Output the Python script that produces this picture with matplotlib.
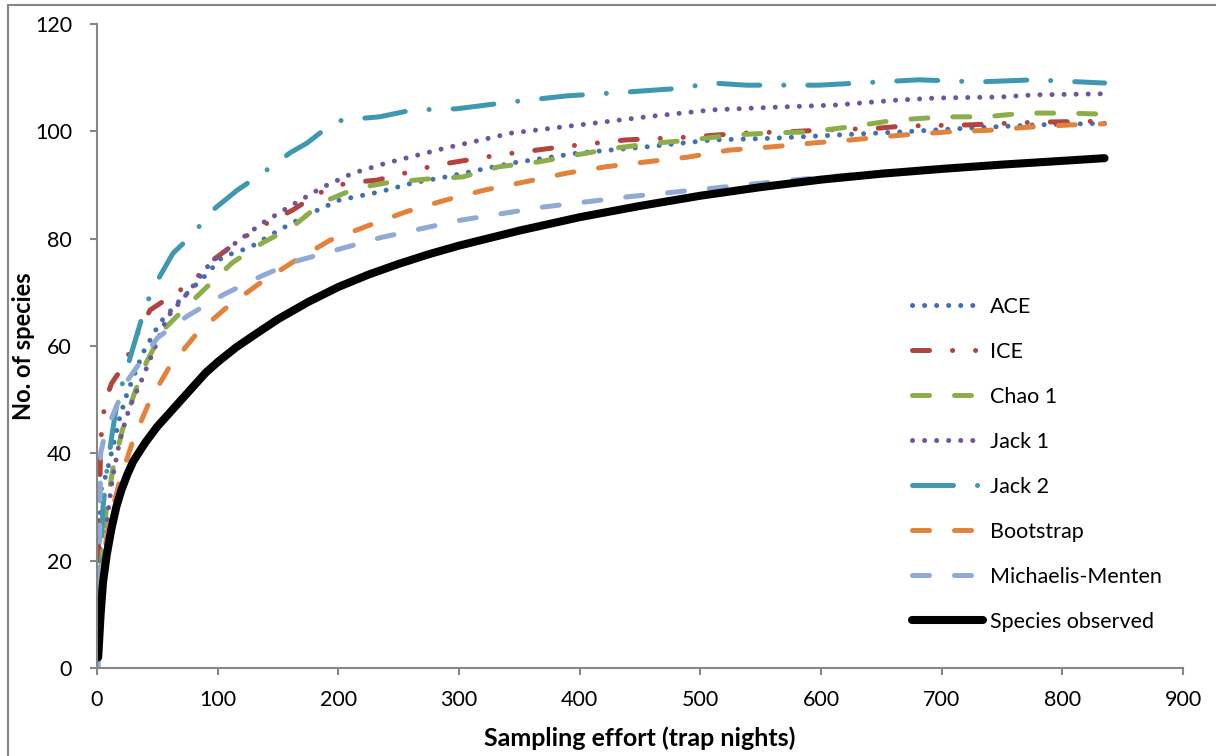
import numpy as np
import matplotlib
matplotlib.use("Agg")
import matplotlib.pyplot as plt
from matplotlib.lines import Line2D

plt.rcParams['font.family'] = ['Lato', 'DejaVu Sans']

ace_x = [1, 3, 8, 19, 25, 38, 52, 69, 88, 104, 127, 151, 174, 201, 234, 262, 289, 344, 400, 455, 510, 559, 612, 667, 722, 777, 835]
ace_y = [2, 33, 36.3, 46.8, 51.2, 58.7, 64.3, 68.6, 72.7, 76.6, 78.4, 81.6, 84.4, 87.2, 88.7, 90.4, 91.5, 94.1, 96, 97.1, 98.4, 98.7, 99.3, 99.9, 100.6, 101.2, 101.5]

ice_x = [1, 2, 3, 5, 8, 12, 18, 25, 33, 44, 60, 79, 96, 118, 141, 162, 184, 207, 232, 281, 333, 385, 438, 488, 538, 571, 598, 648, 669, 722, 777, 835]
ice_y = [20, 29, 42, 47, 50.5, 53, 55, 57.8, 62, 66.7, 69.1, 71.9, 76, 79.7, 82.9, 85.3, 88.5, 90.4, 90.9, 93.7, 95.6, 97.1, 98.4, 98.9, 99.7, 99.9, 100.2, 100.6, 101, 101.2, 101.7, 101.9]

chao_x = [1, 4, 5, 8, 13, 21, 31, 41, 55, 74, 91, 112, 137, 162, 187, 215, 240, 273, 303, 333, 366, 397, 430, 463, 493, 526, 559, 590, 623, 662, 703, 736, 769, 802, 835]
chao_y = [3, 20, 23.8, 30, 36.9, 44.3, 51.2, 57, 63, 67.3, 71, 75.5, 79.2, 82.2, 86.8, 89.4, 90.4, 91.1, 91.5, 93.4, 94.3, 95.6, 96.9, 97.8, 98.4, 99.3, 99.7, 99.9, 100.8, 102.1, 102.7, 102.7, 103.4, 103.4, 103.2]

jack1_x = [1, 7, 9, 13, 19, 27, 36, 58, 77, 94, 116, 137, 162, 187, 212, 240, 289, 344, 400, 455, 510, 562, 612, 662, 695, 749, 777, 835]
jack1_y = [3, 21.4, 28.9, 35.6, 42.5, 48.6, 53.1, 65.3, 70.4, 75.5, 79.4, 82.9, 86.3, 89.6, 92.2, 94.1, 96.9, 99.7, 101.2, 102.7, 104, 104.5, 104.9, 105.8, 106.2, 106.4, 106.8, 107]

jack2_x = [1, 5, 8, 13, 17, 25, 30, 40, 48, 63, 77, 98, 116, 135, 149, 160, 174, 190, 203, 234, 262, 298, 344, 389, 438, 482, 510, 538, 557, 598, 648, 681, 730, 777, 835]
jack2_y = [8, 30, 36.5, 44.3, 50, 55.9, 59.8, 67.3, 71.4, 77.3, 80.3, 85.7, 89, 91.9, 94.1, 96, 97.8, 100.6, 102.1, 102.7, 104, 104.2, 105.5, 106.6, 107.3, 108, 109, 108.6, 108.6, 108.6, 109.2, 109.6, 109.2, 109.6, 109]

boot_x = [1, 5, 11, 19, 30, 44, 60, 83, 108, 135, 162, 193, 228, 256, 289, 322, 355, 389, 422, 455, 490, 524, 559, 592, 625, 667, 706, 739, 774, 807, 835]
boot_y = [8, 20.7, 28.1, 35, 42.5, 49.9, 56.1, 62.4, 67.3, 71.7, 75.6, 79.7, 82.7, 85, 87.2, 89.1, 90.6, 92.2, 93.4, 94.3, 95.2, 96.5, 97.1, 97.8, 98.4, 99.3, 99.9, 100.2, 100.8, 101.2, 101.4]

mm_x = [1, 2, 3, 6, 11, 25, 50, 75, 105, 135, 165, 200, 235, 300, 370, 440, 510, 570, 640, 700, 760, 835]
mm_y = [0, 20, 40, 43, 46, 53.5, 61.5, 65.6, 69.6, 72.9, 75.8, 78, 80.2, 83.4, 85.9, 87.8, 89.4, 90.8, 92.2, 93.2, 94, 94.8]

obs_x = [1, 2, 3, 5, 8, 12, 16, 20, 25, 30, 40, 50, 60, 70, 80, 90, 100, 115, 130, 150, 175, 200, 225, 250, 275, 300,
         350, 400, 450, 500, 550, 600, 650, 700, 750, 800, 835]
obs_y = [2, 6, 10, 16, 21, 26, 30, 33, 36, 38.5, 42, 45, 47.5, 50, 52.5, 55, 57, 59.7, 62, 65, 68.2, 71, 73.3, 75.3, 77.1, 78.7,
         81.5, 84, 86.1, 88, 89.6, 91, 92.1, 93, 93.8, 94.5, 95]

labels = ["ACE", "ICE", "Chao 1", "Jack 1", "Jack 2", "Bootstrap", "Michaelis-Menten", "Species observed"]
xticks = [0, 100, 200, 300, 400, 500, 600, 700, 800, 900]
yticks = [0, 20, 40, 60, 80, 100, 120]

## Styles (type Excel)
dot = (0.01, 2.4)
styles = [
    dict(color="#3F70B2", lw=3.6, dashes=dot),
    dict(color="#B24440", lw=3.6, dashes=(3.4, 4.6, 0.01, 4.6, 0.01, 4.6)),
    dict(color="#8BAE4B", lw=3.6, dashes=(3.4, 5.0)),
    dict(color="#71559C", lw=3.6, dashes=dot),
    dict(color="#3E98B0", lw=3.6, dashes=(8.2, 4.8, 0.01, 4.8)),
    dict(color="#E3823B", lw=3.6, dashes=(3.4, 5.0)),
    dict(color="#8FAAD4", lw=3.6, dashes=(3.4, 5.0)),
    dict(color="black", lw=5.8),
]
series = [(ace_x, ace_y), (ice_x, ice_y), (chao_x, chao_y), (jack1_x, jack1_y),
          (jack2_x, jack2_y), (boot_x, boot_y), (mm_x, mm_y), (obs_x, obs_y)]

fig = plt.figure(figsize=(12.16, 7.56), dpi=100)
ax = fig.add_axes([97/1216, 88/756, (1183-97)/1216, (668-24)/756])

handles = []
for (xs, ys), st, lab in zip(series, styles, labels):
    kw = dict(color=st["color"], lw=st["lw"], solid_capstyle="round", dash_capstyle="round")
    if "dashes" in st:
        line, = ax.plot(xs, ys, dashes=st["dashes"], label=lab, **kw)
    else:
        line, = ax.plot(xs, ys, label=lab, **kw)
    handles.append(line)

ax.set_xlim(0, 900)
ax.set_ylim(0, 120)
ax.set_xticks(xticks)
ax.set_yticks(yticks)
for s in ["top", "right"]:
    ax.spines[s].set_visible(False)
for s in ["left", "bottom"]:
    ax.spines[s].set_color("#868686")
    ax.spines[s].set_linewidth(1.5)
ax.tick_params(direction="out", length=5, width=1.5, color="#868686", labelsize=15.5)
ax.tick_params(axis="y", pad=13)
ax.tick_params(axis="x", pad=11)

ax.set_xlabel("Sampling effort (trap nights)", fontsize=18, fontweight="bold", labelpad=12)
ax.set_ylabel("No. of species", fontsize=17, fontweight="bold", labelpad=0)

leg = ax.legend(handles=handles, loc="upper left", bbox_to_anchor=(912/1216, 1 - 297/756),
                bbox_transform=fig.transFigure, frameon=False, fontsize=15.5,
                handlelength=3.3, handletextpad=0.3, labelspacing=1.16,
                borderpad=0, borderaxespad=0)

## cadre gris du graphique
fig.add_artist(Line2D([8/1216, 1], [1 - 4.5/756, 1 - 4.5/756], color="#868686", lw=1.5))
fig.add_artist(Line2D([8/1216, 8/1216], [0, 1 - 4.5/756], color="#868686", lw=1.5))

fig.savefig("out.png", dpi=100)
